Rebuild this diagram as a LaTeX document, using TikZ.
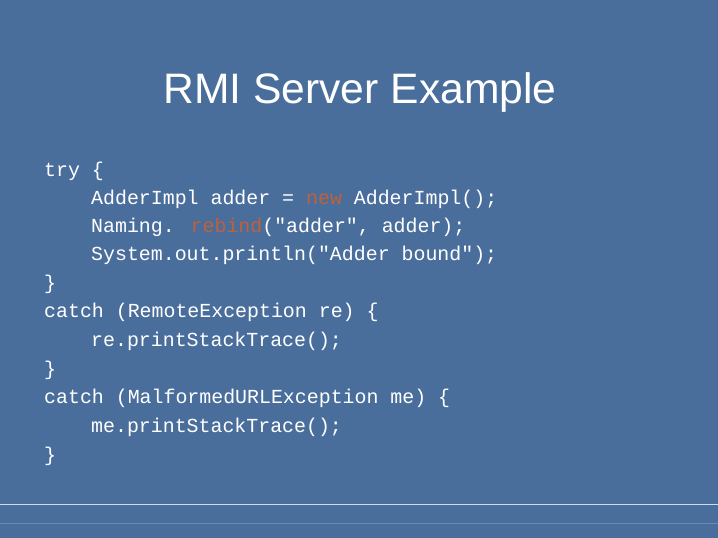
\documentclass[tikz,border=0pt]{standalone}
\usepackage{fontspec}
\setmainfont{Liberation Sans}
\newfontfamily\codefont{Liberation Mono}
\definecolor{bg}{HTML}{4A6E9C}
\definecolor{rule}{HTML}{C8DCF8}
\definecolor{kw}{HTML}{C0603A}
\begin{document}
\begin{tikzpicture}[x=1pt,y=-1pt,
  code/.style={anchor=base west,inner sep=0pt,text=white,font=\codefont\fontsize{19.9}{20}\selectfont}]
\fill[bg] (0,0) rectangle (718,538);
\useasboundingbox (0,0) rectangle (718,538);
\node[anchor=base,inner sep=0pt,text=white,font=\fontsize{42.6}{44}\selectfont] (title) at (360,103) {RMI Server Example};
\node[code] (l1) at (44,176) {try \{};
\node[code] (l2) at (44,204) {\hspace*{47pt}AdderImpl adder = \textcolor{kw}{new} AdderImpl();};
\node[code] (l3) at (44,232) {\hspace*{47pt}Naming. \textcolor{kw}{rebind}("adder", adder);};
\node[code] (l4) at (44,260) {\hspace*{47pt}System.out.println("Adder bound");};
\node[code] (l5) at (44,289) {\}};
\node[code] (l6) at (44,317) {catch (RemoteException re) \{};
\node[code] (l7) at (44,346) {\hspace*{47pt}re.printStackTrace();};
\node[code] (l8) at (44,375) {\}};
\node[code] (l9) at (44,403) {catch (MalformedURLException me) \{};
\node[code] (l10) at (44,432) {\hspace*{47pt}me.printStackTrace();};
\node[code] (l11) at (44,461) {\}};
\draw[rule,line width=1.3pt] (0,504.5) -- (718,504.5);
\draw[rule!25!bg,line width=0.8pt] (0,523) -- (718,523);
\end{tikzpicture}
\end{document}
